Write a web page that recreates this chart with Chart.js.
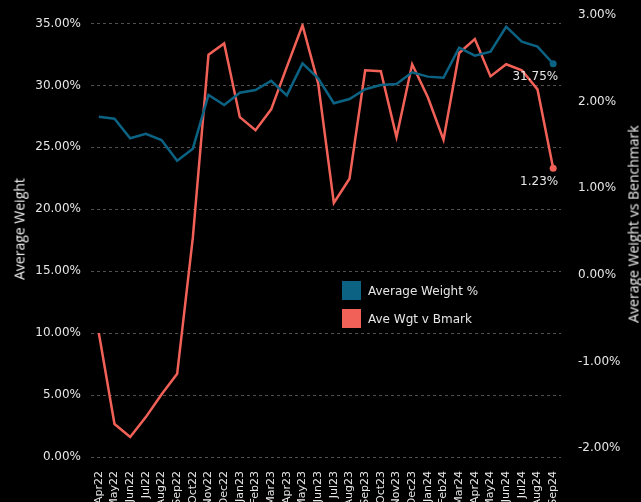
<!DOCTYPE html>
<html>
<head>
<meta charset="utf-8">
<script src="https://cdn.jsdelivr.net/npm/chart.js@4.4.1/dist/chart.umd.min.js"></script>
<style>
html, body { margin: 0; padding: 0; background: #000; overflow: hidden; }
#wrap { position: relative; width: 641px; height: 502px; background: #000; }
canvas { display: block; }
.axt { position: absolute; color: #f0f0f0; font: 14px 'Open Sans'; white-space: nowrap; transform: translate(-50%, -50%) rotate(-90deg); }
#legend { position: absolute; left: 342px; top: 281px; font: 12px 'DejaVu Sans'; color: #e6e6e6; }
.li { display: flex; align-items: center; height: 19px; margin-bottom: 9px; }
.sw { width: 19px; height: 19px; margin-right: 7px; }
</style>
</head>
<body>
<div id="wrap">
  <canvas id="c" width="641" height="502"></canvas>
  <div class="axt" style="left:19px; top:229px;">Average Weight</div>
  <div class="axt" style="left:633px; top:224px;">Average Weight vs Benchmark</div>
  <div id="legend"></div>
</div>
<script>
const categories = ['Apr22','May22','Jun22','Jul22','Aug22','Sep22','Oct22','Nov22','Dec22','Jan23','Feb23','Mar23','Apr23','May23','Jun23','Jul23','Aug23','Sep23','Oct23','Nov23','Dec23','Jan24','Feb24','Mar24','Apr24','May24','Jun24','Jul24','Aug24','Sep24'];
const avgWeight = [27.48,27.31,25.73,26.10,25.59,23.92,24.89,29.23,28.42,29.41,29.63,30.38,29.20,31.78,30.57,28.56,28.90,29.69,30.03,30.11,31.06,30.71,30.62,33.05,32.40,32.72,34.74,33.53,33.13,31.75];
const aveWgtVsBmark = [-0.67,-1.72,-1.87,-1.64,-1.38,-1.14,0.43,2.54,2.67,1.82,1.67,1.91,2.40,2.88,2.21,0.83,1.11,2.36,2.35,1.59,2.43,2.05,1.56,2.56,2.72,2.29,2.43,2.36,2.14,1.23];
const leftTicks = [0,5,10,15,20,25,30,35];
const rightTicks = [-2,-1,0,1,2,3];
const seriesNames = ['Average Weight %','Ave Wgt v Bmark'];

const BLUE = '#0c6283';
const RED = '#f26157';
const TXT = '#e6e6e6';
const lastIdx = categories.length - 1;

const endLabels = {
  id: 'endLabels',
  afterDatasetsDraw(chart) {
    const ctx = chart.ctx;
    ctx.save();
    ctx.font = '12px "DejaVu Sans"';
    ctx.fillStyle = TXT;
    ctx.textAlign = 'right';
    ctx.textBaseline = 'middle';
    chart.data.datasets.forEach((ds, i) => {
      const meta = chart.getDatasetMeta(i);
      const p = meta.data[meta.data.length - 1];
      const v = ds.data[ds.data.length - 1];
      ctx.fillText(v.toFixed(2) + '%', p.x + 5, p.y + 13.5);
    });
    ctx.restore();
  }
};

const chart = new Chart(document.getElementById('c'), {
  type: 'line',
  data: {
    labels: categories,
    datasets: [
      {
        label: seriesNames[0], data: avgWeight, yAxisID: 'y',
        borderColor: BLUE, backgroundColor: BLUE, borderWidth: 2.5, tension: 0,
        pointRadius: c => c.dataIndex === lastIdx ? 3.5 : 0,
        pointBackgroundColor: BLUE, pointBorderWidth: 0
      },
      {
        label: seriesNames[1], data: aveWgtVsBmark, yAxisID: 'y1',
        borderColor: RED, backgroundColor: RED, borderWidth: 2.5, tension: 0,
        pointRadius: c => c.dataIndex === lastIdx ? 3.5 : 0,
        pointBackgroundColor: RED, pointBorderWidth: 0
      }
    ]
  },
  options: {
    responsive: false,
    animation: false,
    devicePixelRatio: 1,
    layout: { padding: { top: 23.5, left: 0, right: 0, bottom: 0 } },
    plugins: { legend: { display: false }, tooltip: { enabled: false } },
    scales: {
      x: {
        type: 'category', offset: true,
        grid: { display: false }, border: { display: false },
        ticks: { color: TXT, font: { family: 'DejaVu Sans', size: 11 }, minRotation: 90, maxRotation: 90, autoSkip: false, padding: 6 },
        afterFit: s => { s.height = 45; }
      },
      y: {
        position: 'left', min: 0, max: 35,
        afterBuildTicks: s => { s.ticks = leftTicks.map(v => ({ value: v })); },
        ticks: { color: TXT, font: { family: 'DejaVu Sans', size: 12 }, padding: 10, callback: v => Number(v).toFixed(2) + '%' },
        grid: { color: '#505050', lineWidth: 1, drawTicks: false },
        border: { display: false, dash: [3, 3] },
        afterFit: s => { s.width = 91; }
      },
      y1: {
        position: 'right', min: -2.1, max: 2.9,
        afterBuildTicks: s => { s.ticks = rightTicks.map(v => ({ value: v })); },
        ticks: { color: TXT, font: { family: 'DejaVu Sans', size: 12 }, padding: 9, callback: v => Number(v).toFixed(2) + '%' },
        grid: { display: false }, border: { display: false },
        afterFit: s => { s.width = 80; }
      }
    }
  },
  plugins: [endLabels]
});

const legendEl = document.getElementById('legend');
chart.data.datasets.forEach(ds => {
  const row = document.createElement('div');
  row.className = 'li';
  const sw = document.createElement('div');
  sw.className = 'sw';
  sw.style.background = ds.borderColor;
  const tx = document.createElement('span');
  tx.textContent = ds.label;
  row.appendChild(sw); row.appendChild(tx);
  legendEl.appendChild(row);
});
</script>
</body>
</html>
